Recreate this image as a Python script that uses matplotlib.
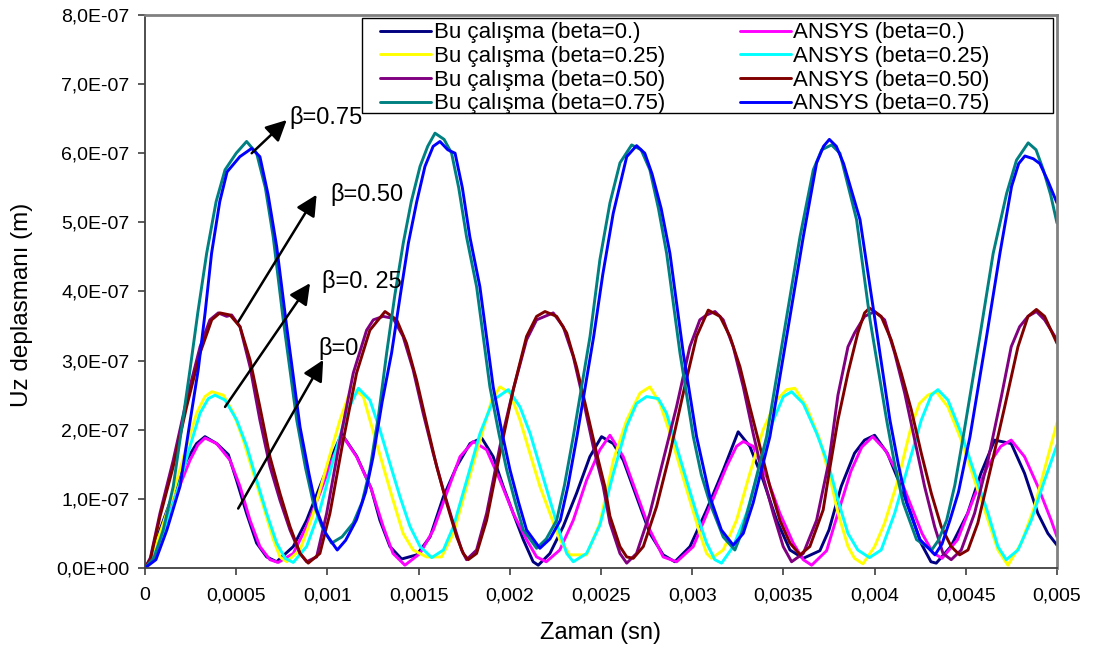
import matplotlib
matplotlib.use("Agg")
import matplotlib.pyplot as plt
from matplotlib.ticker import FixedLocator, FuncFormatter
from matplotlib.patches import Rectangle
import numpy as np

plt.rcParams['font.family'] = ['Liberation Sans', 'DejaVu Sans']

# ---- data: time in ms, displacement in 1e-7 m ----
t_bu0 = [0, 0.04, 0.082, 0.155, 0.228, 0.283, 0.329, 0.393, 0.457, 0.502, 0.557, 0.612, 0.667, 0.722, 0.813, 0.886, 0.959, 1.023, 1.078, 1.16, 1.24, 1.288, 1.343, 1.407, 1.49, 1.563, 1.636, 1.709, 1.782, 1.846, 1.909, 1.964, 2.019, 2.074, 2.128, 2.156, 2.22, 2.293, 2.366, 2.439, 2.503, 2.567, 2.622, 2.695, 2.768, 2.841, 2.905, 2.988, 3.079, 3.171, 3.252, 3.316, 3.389, 3.463, 3.536, 3.609, 3.70, 3.75, 3.817, 3.89, 3.945, 4.0, 4.07, 4.144, 4.199, 4.254, 4.309, 4.338, 4.418, 4.51, 4.583, 4.658, 4.749, 4.822, 4.895, 4.95, 5.0]
v_bu0 = [0, 0.15, 0.55, 1.08, 1.56, 1.80, 1.90, 1.80, 1.64, 1.27, 0.79, 0.36, 0.16, 0.09, 0.31, 0.69, 1.18, 1.61, 1.94, 1.62, 1.15, 0.69, 0.31, 0.13, 0.19, 0.45, 1.03, 1.47, 1.80, 1.88, 1.61, 1.18, 0.79, 0.41, 0.09, 0.04, 0.21, 0.60, 1.08, 1.61, 1.90, 1.80, 1.56, 1.03, 0.50, 0.19, 0.09, 0.31, 0.84, 1.42, 1.97, 1.76, 1.27, 0.69, 0.26, 0.14, 0.25, 0.55, 1.18, 1.66, 1.85, 1.92, 1.66, 1.18, 0.79, 0.36, 0.09, 0.07, 0.31, 0.79, 1.37, 1.85, 1.80, 1.37, 0.79, 0.50, 0.33]

t_an0 = [0, 0.05, 0.10, 0.174, 0.247, 0.29, 0.329, 0.393, 0.466, 0.521, 0.576, 0.63, 0.685, 0.73, 0.813, 0.886, 0.959, 1.032, 1.087, 1.16, 1.24, 1.306, 1.36, 1.425, 1.508, 1.581, 1.654, 1.727, 1.80, 1.873, 1.946, 2.019, 2.092, 2.147, 2.20, 2.274, 2.348, 2.421, 2.494, 2.549, 2.622, 2.695, 2.768, 2.841, 2.915, 3.006, 3.097, 3.189, 3.243, 3.28, 3.334, 3.408, 3.481, 3.554, 3.609, 3.655, 3.737, 3.80, 3.87, 3.93, 3.99, 4.06, 4.14, 4.20, 4.26, 4.32, 4.37, 4.455, 4.546, 4.619, 4.692, 4.749, 4.822, 4.895, 4.968, 5.0]
v_an0 = [0, 0.15, 0.55, 1.08, 1.56, 1.78, 1.88, 1.80, 1.56, 1.18, 0.69, 0.31, 0.12, 0.08, 0.21, 0.60, 1.08, 1.61, 1.90, 1.61, 1.15, 0.60, 0.21, 0.04, 0.21, 0.55, 1.08, 1.61, 1.83, 1.71, 1.27, 0.79, 0.41, 0.16, 0.09, 0.26, 0.69, 1.27, 1.71, 1.92, 1.61, 1.08, 0.55, 0.16, 0.09, 0.31, 0.89, 1.47, 1.76, 1.83, 1.76, 1.32, 0.79, 0.36, 0.12, 0.04, 0.25, 0.80, 1.40, 1.75, 1.90, 1.70, 1.30, 0.90, 0.50, 0.22, 0.14, 0.41, 1.03, 1.47, 1.76, 1.85, 1.61, 1.18, 0.69, 0.45]

t_bu25 = [0, 0.03, 0.082, 0.155, 0.228, 0.283, 0.329, 0.366, 0.43, 0.485, 0.539, 0.594, 0.649, 0.704, 0.74, 0.777, 0.85, 0.923, 0.996, 1.069, 1.133, 1.197, 1.233, 1.306, 1.36, 1.415, 1.47, 1.544, 1.626, 1.691, 1.764, 1.837, 1.901, 1.946, 2.001, 2.056, 2.11, 2.165, 2.22, 2.274, 2.329, 2.421, 2.494, 2.568, 2.641, 2.714, 2.768, 2.823, 2.878, 2.932, 2.987, 3.042, 3.079, 3.106, 3.17, 3.243, 3.316, 3.389, 3.463, 3.518, 3.563, 3.627, 3.70, 3.76, 3.799, 3.854, 3.89, 3.936, 4.0, 4.055, 4.128, 4.201, 4.246, 4.292, 4.338, 4.402, 4.475, 4.548, 4.622, 4.676, 4.731, 4.804, 4.877, 4.95, 5.0]
v_bu25 = [0, 0.12, 0.50, 1.08, 1.76, 2.24, 2.48, 2.55, 2.50, 2.24, 1.85, 1.37, 0.89, 0.41, 0.16, 0.09, 0.26, 0.79, 1.47, 2.14, 2.62, 2.48, 2.14, 1.47, 0.98, 0.50, 0.26, 0.16, 0.16, 0.50, 1.18, 1.85, 2.43, 2.62, 2.53, 2.14, 1.66, 1.18, 0.79, 0.41, 0.19, 0.19, 0.65, 1.56, 2.14, 2.53, 2.62, 2.38, 1.95, 1.47, 0.98, 0.50, 0.21, 0.14, 0.26, 0.69, 1.37, 2.00, 2.43, 2.58, 2.60, 2.33, 1.85, 1.25, 0.80, 0.31, 0.14, 0.06, 0.31, 0.65, 1.27, 2.05, 2.38, 2.50, 2.55, 2.33, 1.85, 1.27, 0.69, 0.26, 0.04, 0.36, 0.89, 1.61, 2.10]

t_an25 = [0, 0.04, 0.10, 0.174, 0.247, 0.302, 0.347, 0.384, 0.439, 0.503, 0.558, 0.612, 0.667, 0.722, 0.768, 0.813, 0.886, 0.959, 1.032, 1.105, 1.17, 1.233, 1.288, 1.343, 1.398, 1.453, 1.508, 1.572, 1.636, 1.691, 1.764, 1.837, 1.91, 1.992, 2.056, 2.111, 2.165, 2.22, 2.275, 2.312, 2.348, 2.421, 2.494, 2.568, 2.641, 2.695, 2.75, 2.814, 2.859, 2.914, 2.969, 3.024, 3.079, 3.124, 3.161, 3.225, 3.298, 3.371, 3.445, 3.50, 3.545, 3.609, 3.682, 3.75, 3.799, 3.854, 3.908, 3.972, 4.036, 4.11, 4.183, 4.256, 4.311, 4.347, 4.402, 4.475, 4.548, 4.622, 4.676, 4.722, 4.786, 4.859, 4.932, 5.0]
v_an25 = [0, 0.12, 0.50, 1.08, 1.76, 2.24, 2.45, 2.50, 2.43, 2.14, 1.76, 1.27, 0.79, 0.36, 0.14, 0.08, 0.31, 0.84, 1.56, 2.24, 2.60, 2.43, 2.00, 1.51, 1.03, 0.60, 0.31, 0.15, 0.26, 0.60, 1.27, 1.95, 2.43, 2.58, 2.33, 1.95, 1.47, 0.98, 0.50, 0.21, 0.09, 0.21, 0.62, 1.37, 2.05, 2.38, 2.48, 2.45, 2.24, 1.76, 1.27, 0.79, 0.36, 0.12, 0.07, 0.31, 0.79, 1.47, 2.14, 2.48, 2.55, 2.38, 1.95, 1.47, 0.98, 0.50, 0.26, 0.15, 0.26, 0.79, 1.47, 2.14, 2.50, 2.58, 2.43, 1.95, 1.37, 0.79, 0.31, 0.12, 0.26, 0.69, 1.27, 1.78]

t_bu50 = [0, 0.03, 0.082, 0.155, 0.228, 0.302, 0.356, 0.402, 0.448, 0.475, 0.521, 0.576, 0.63, 0.685, 0.74, 0.795, 0.85, 0.886, 0.941, 0.996, 1.069, 1.142, 1.215, 1.252, 1.306, 1.361, 1.415, 1.47, 1.525, 1.58, 1.635, 1.69, 1.736, 1.763, 1.818, 1.873, 1.946, 2.019, 2.092, 2.147, 2.238, 2.293, 2.348, 2.403, 2.457, 2.512, 2.549, 2.604, 2.641, 2.695, 2.768, 2.841, 2.914, 2.987, 3.042, 3.079, 3.125, 3.17, 3.225, 3.28, 3.334, 3.389, 3.444, 3.499, 3.545, 3.609, 3.682, 3.75, 3.799, 3.854, 3.89, 3.945, 4.0, 4.055, 4.11, 4.165, 4.22, 4.274, 4.329, 4.375, 4.42, 4.475, 4.548, 4.622, 4.695, 4.749, 4.795, 4.841, 4.887, 4.932, 5.0]
v_bu50 = [0, 0.15, 0.79, 1.56, 2.43, 3.20, 3.59, 3.69, 3.64, 3.66, 3.49, 2.91, 2.14, 1.47, 0.98, 0.55, 0.21, 0.09, 0.16, 0.79, 1.85, 2.82, 3.44, 3.59, 3.64, 3.61, 3.35, 2.87, 2.24, 1.66, 1.13, 0.65, 0.26, 0.12, 0.26, 0.79, 1.76, 2.58, 3.30, 3.59, 3.69, 3.49, 3.06, 2.43, 1.76, 1.18, 0.65, 0.21, 0.07, 0.21, 0.79, 1.56, 2.33, 3.20, 3.59, 3.66, 3.71, 3.59, 3.20, 2.62, 1.95, 1.32, 0.79, 0.31, 0.09, 0.21, 0.69, 1.55, 2.50, 3.20, 3.40, 3.64, 3.71, 3.59, 3.11, 2.53, 1.85, 1.18, 0.60, 0.21, 0.12, 0.26, 0.79, 1.56, 2.48, 3.20, 3.49, 3.64, 3.71, 3.59, 3.30]

t_an50 = [0, 0.03, 0.082, 0.155, 0.228, 0.302, 0.366, 0.411, 0.466, 0.521, 0.576, 0.63, 0.685, 0.74, 0.795, 0.85, 0.895, 0.959, 1.014, 1.087, 1.16, 1.233, 1.316, 1.38, 1.434, 1.489, 1.544, 1.599, 1.654, 1.709, 1.745, 1.772, 1.818, 1.873, 1.946, 2.019, 2.092, 2.147, 2.193, 2.257, 2.312, 2.366, 2.421, 2.476, 2.521, 2.549, 2.604, 2.641, 2.677, 2.732, 2.805, 2.878, 2.951, 3.024, 3.088, 3.152, 3.207, 3.262, 3.316, 3.371, 3.426, 3.481, 3.536, 3.591, 3.645, 3.718, 3.755, 3.799, 3.854, 3.908, 3.945, 3.972, 4.036, 4.091, 4.146, 4.201, 4.256, 4.311, 4.365, 4.42, 4.466, 4.512, 4.566, 4.639, 4.713, 4.786, 4.841, 4.887, 4.932, 5.0]
v_an50 = [0, 0.13, 0.74, 1.47, 2.33, 3.11, 3.59, 3.69, 3.66, 3.49, 3.01, 2.33, 1.61, 1.08, 0.60, 0.21, 0.07, 0.21, 0.79, 1.85, 2.82, 3.44, 3.71, 3.59, 3.25, 2.72, 2.09, 1.47, 0.94, 0.45, 0.21, 0.12, 0.21, 0.69, 1.66, 2.58, 3.35, 3.64, 3.71, 3.64, 3.40, 2.91, 2.29, 1.66, 1.18, 0.75, 0.31, 0.16, 0.14, 0.31, 0.89, 1.66, 2.53, 3.35, 3.73, 3.64, 3.35, 2.91, 2.33, 1.76, 1.18, 0.69, 0.36, 0.19, 0.31, 0.84, 1.45, 2.14, 2.82, 3.40, 3.69, 3.76, 3.64, 3.30, 2.82, 2.29, 1.66, 1.08, 0.60, 0.31, 0.19, 0.26, 0.65, 1.47, 2.33, 3.20, 3.64, 3.74, 3.64, 3.25]

t_bu75 = [0, 0.05, 0.10, 0.155, 0.20, 0.247, 0.29, 0.338, 0.39, 0.439, 0.50, 0.557, 0.612, 0.66, 0.703, 0.758, 0.832, 0.88, 0.923, 0.97, 1.023, 1.08, 1.142, 1.19, 1.233, 1.28, 1.325, 1.37, 1.416, 1.46, 1.508, 1.55, 1.59, 1.64, 1.681, 1.72, 1.763, 1.818, 1.891, 1.94, 1.983, 2.03, 2.074, 2.147, 2.20, 2.257, 2.30, 2.348, 2.44, 2.494, 2.549, 2.604, 2.668, 2.72, 2.768, 2.815, 2.86, 2.933, 3.006, 3.05, 3.097, 3.17, 3.234, 3.27, 3.316, 3.408, 3.50, 3.591, 3.664, 3.71, 3.764, 3.81, 3.901, 3.975, 4.066, 4.11, 4.157, 4.23, 4.313, 4.35, 4.395, 4.44, 4.486, 4.577, 4.65, 4.724, 4.778, 4.842, 4.885, 4.925, 4.965, 5.0]
v_bu75 = [0, 0.15, 0.55, 1.18, 2.00, 2.87, 3.70, 4.55, 5.30, 5.76, 6.00, 6.17, 6.00, 5.50, 4.79, 3.59, 2.14, 1.45, 0.94, 0.60, 0.36, 0.45, 0.65, 0.95, 1.42, 2.20, 3.11, 3.95, 4.70, 5.30, 5.81, 6.10, 6.29, 6.20, 6.00, 5.50, 4.79, 4.07, 2.62, 1.95, 1.42, 0.95, 0.55, 0.285, 0.42, 0.69, 1.20, 1.90, 3.35, 4.46, 5.28, 5.86, 6.12, 6.05, 5.76, 5.20, 4.55, 3.11, 1.90, 1.35, 0.94, 0.45, 0.26, 0.50, 0.94, 1.90, 3.35, 4.79, 5.76, 6.05, 6.12, 6.00, 5.04, 3.59, 2.14, 1.50, 0.94, 0.41, 0.26, 0.40, 0.69, 1.20, 1.90, 3.35, 4.55, 5.42, 5.90, 6.15, 6.05, 5.76, 5.40, 4.99]

t_an75 = [0, 0.06, 0.12, 0.192, 0.24, 0.292, 0.33, 0.365, 0.41, 0.45, 0.52, 0.585, 0.63, 0.675, 0.722, 0.777, 0.85, 0.90, 0.941, 0.99, 1.054, 1.10, 1.16, 1.21, 1.25, 1.30, 1.352, 1.40, 1.444, 1.49, 1.535, 1.58, 1.617, 1.66, 1.70, 1.74, 1.781, 1.836, 1.909, 1.958, 2.001, 2.048, 2.092, 2.165, 2.22, 2.277, 2.32, 2.368, 2.46, 2.51, 2.567, 2.641, 2.695, 2.74, 2.78, 2.83, 2.878, 2.951, 3.024, 3.097, 3.16, 3.225, 3.28, 3.334, 3.426, 3.518, 3.609, 3.682, 3.72, 3.752, 3.79, 3.83, 3.92, 4.002, 4.084, 4.13, 4.176, 4.249, 4.331, 4.37, 4.413, 4.46, 4.523, 4.614, 4.687, 4.751, 4.79, 4.824, 4.87, 4.906, 4.95, 5.0]
v_an75 = [0, 0.12, 0.55, 1.18, 2.00, 2.87, 3.70, 4.55, 5.30, 5.73, 5.95, 6.07, 5.95, 5.40, 4.65, 3.49, 2.04, 1.35, 0.84, 0.50, 0.26, 0.40, 0.70, 1.10, 1.60, 2.40, 3.11, 3.95, 4.70, 5.30, 5.81, 6.10, 6.17, 6.05, 6.00, 5.50, 4.79, 4.07, 2.62, 1.95, 1.42, 0.95, 0.55, 0.285, 0.42, 0.69, 1.20, 1.90, 3.35, 4.25, 5.13, 5.95, 6.11, 6.00, 5.70, 5.20, 4.55, 3.11, 1.90, 1.03, 0.55, 0.33, 0.50, 0.94, 1.90, 3.35, 4.79, 5.86, 6.10, 6.20, 6.10, 5.85, 5.04, 3.59, 2.14, 1.50, 0.94, 0.41, 0.19, 0.35, 0.69, 1.10, 1.90, 3.35, 4.55, 5.52, 5.85, 5.96, 5.92, 5.85, 5.60, 5.28]

labels = ["Bu çalışma (beta=0.)", "ANSYS (beta=0.)",
          "Bu çalışma (beta=0.25)", "ANSYS (beta=0.25)",
          "Bu çalışma (beta=0.50)", "ANSYS (beta=0.50)",
          "Bu çalışma (beta=0.75)", "ANSYS (beta=0.75)"]
colors = ["#000080", "#FF00FF", "#FFFF00", "#00FFFF",
          "#800080", "#800000", "#008080", "#0000FF"]
series_t = [t_bu0, t_an0, t_bu25, t_an25, t_bu50, t_an50, t_bu75, t_an75]
series_v = [v_bu0, v_an0, v_bu25, v_an25, v_bu50, v_an50, v_bu75, v_an75]

x_ticks = [0, 0.0005, 0.001, 0.0015, 0.002, 0.0025, 0.003, 0.0035, 0.004, 0.0045, 0.005]
y_ticks = [0, 1e-7, 2e-7, 3e-7, 4e-7, 5e-7, 6e-7, 7e-7, 8e-7]

# annotations: (label, arrow start (s, m), arrow tip (s, m), text pos (s, m))
annots = [
    ("β=0.75", (0.000585, 6.00e-7), (0.000777, 6.48e-7), (0.000789, 6.51e-7)),
    ("β=0.50", (0.000511, 3.56e-7), (0.000941, 5.40e-7), (0.001014, 5.40e-7)),
    ("β=0. 25", (0.000439, 2.33e-7), (0.000905, 4.12e-7), (0.000970, 4.14e-7)),
    ("β=0", (0.000511, 0.86e-7), (0.000977, 3.01e-7), (0.000948, 3.18e-7)),
]

fig = plt.figure(figsize=(10.95, 6.57), dpi=100)
ax = fig.add_axes([0.1324, 0.1355, 0.8329, 0.8417])

handles = []
for tt, vv, c, lab in zip(series_t, series_v, colors, labels):
    h, = ax.plot(np.array(tt) * 1e-3, np.array(vv) * 1e-7, color=c, lw=2.1,
                 label=lab, solid_joinstyle='round', solid_capstyle='round')
    handles.append(h)

ax.set_xlim(0, 0.005)
ax.set_ylim(0, 8e-7)
ax.xaxis.set_major_locator(FixedLocator(x_ticks))
ax.yaxis.set_major_locator(FixedLocator(y_ticks))
ax.xaxis.set_major_formatter(FuncFormatter(lambda v, p: f"{v:g}".replace('.', ',')))
ax.yaxis.set_major_formatter(FuncFormatter(lambda v, p: f"{v:.1E}".replace('.', ',')))
ax.tick_params(axis='both', direction='out', length=5, width=1.2, color='#404040',
               labelsize=14, labelcolor='black')
ax.tick_params(axis='x', pad=9)
ax.tick_params(axis='y', pad=6)

for s in ['left', 'bottom']:
    ax.spines[s].set_color('#404040')
    ax.spines[s].set_linewidth(1.3)
for s in ['top', 'right']:
    ax.spines[s].set_color('#808080')
    ax.spines[s].set_linewidth(2.0)

ax.set_xlabel("Zaman (sn)", fontsize=17)
ax.set_ylabel("Uz deplasmanı (m)", fontsize=17.5)
ax.xaxis.set_label_coords(0.5, -0.1175)
ax.xaxis.label.set_va('center')
ax.yaxis.set_label_coords(-0.1349, 0.4756)
ax.yaxis.label.set_va('center')

for txt, start, tip, tpos in annots:
    ax.annotate("", xy=tip, xytext=start,
                arrowprops=dict(arrowstyle='-|>,head_length=0.7,head_width=0.35',
                                color='black', lw=1.8, shrinkA=0, shrinkB=0,
                                mutation_scale=18))
    ax.text(tpos[0], tpos[1], txt, fontsize=17, ha='left', va='center', zorder=6)

# legend box (Excel style) and legend entries
rect = Rectangle((0.238, 0.823), 0.758, 0.171, transform=ax.transAxes,
                 facecolor='white', edgecolor='black', lw=1.0, zorder=4, clip_on=False)
ax.add_patch(rect)
order = [0, 2, 4, 6, 1, 3, 5, 7]
leg = ax.legend([handles[i] for i in order], [labels[i] for i in order],
                loc='upper left', bbox_to_anchor=(0.2577, 0.9866), ncol=2,
                frameon=False, fontsize=16, borderpad=0, borderaxespad=0,
                handlelength=2.3, handletextpad=0.12, labelspacing=0.12,
                columnspacing=3.36)
leg.set_zorder(5)

fig.savefig("out.png", dpi=100)
